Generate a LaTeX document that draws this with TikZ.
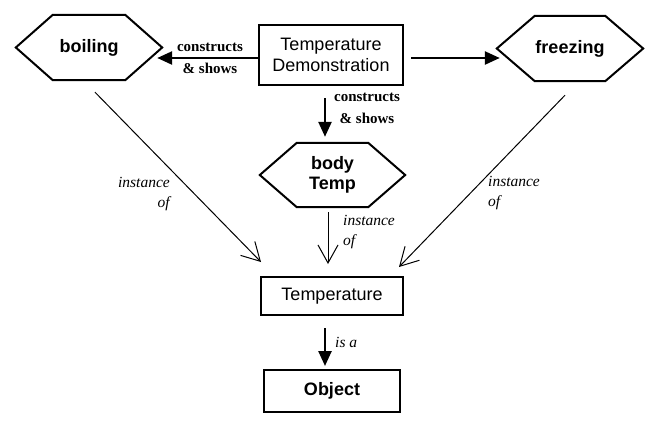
\documentclass[tikz,border=0pt]{standalone}
\usepackage{fontspec}
\setmainfont{Liberation Serif}
\setsansfont{Liberation Sans}
\usetikzlibrary{arrows.meta,calc}
\newcommand\hexdraw[2]{\draw[hexline] (#1.west) -- ([xshift=#2]#1.north west) -- ([xshift=-#2]#1.north east) -- (#1.east) -- ([xshift=-#2]#1.south east) -- ([xshift=#2]#1.south west) -- cycle;}
\begin{document}
\begin{tikzpicture}[x=1pt,y=-1pt,
  box/.style={draw,line width=2pt,font=\sffamily\fontsize{18}{21}\selectfont,align=center,inner sep=0pt},
  hexnode/.style={font=\sffamily\bfseries\fontsize{18}{20}\selectfont,align=center,inner sep=0pt},
  hexline/.style={line width=2pt,line join=miter},
  bigarrow/.style={line width=2.5pt,-{Triangle[length=15pt,width=13pt]}},
  thinarrow/.style={line width=1pt,-{Straight Barb[length=18pt,width=20pt,line width=1pt]}},
  lbl/.style={font=\bfseries\fontsize{15}{22}\selectfont,align=center,inner sep=0pt},
  ilbl/.style={font=\itshape\fontsize{15.5}{20}\selectfont,inner sep=0pt}]
\useasboundingbox[fill=white] (0,0) rectangle (662,421);
% nodes
\node[hexnode,minimum width=146pt,minimum height=65pt] (boil) at (89,47.5) {boiling};
\node[hexnode,minimum width=146pt,minimum height=65pt] (freeze) at (570,48.5) {freezing};
\node[hexnode,minimum width=145pt,minimum height=64pt] (body) at (332.5,175) {body\\Temp};
\hexdraw{boil}{37pt}
\hexdraw{freeze}{38pt}
\hexdraw{body}{37pt}
\node[box,minimum width=144pt,minimum height=60pt] (td) at (331,55) {Temperature\\Demonstration};
\node[box,minimum width=142pt,minimum height=38pt] (temp) at (332,296) {Temperature};
\node[box,font=\sffamily\bfseries\fontsize{18}{21}\selectfont,minimum width=136pt,minimum height=42pt] (obj) at (332,391) {Object};
% connectors
\draw[bigarrow] ($(td.west)+(0,3)$) -- ($(td.west -| boil.east)+(-5,3)$);
\draw[bigarrow] ($(td.east)+(7,3)$) -- ($(td.east -| freeze.west)+(3,3)$);
\draw[bigarrow] ($(td.south)+(-6,12)$) -- ($(body.north)+(-7.5,-6)$);
\draw[thinarrow] ($(body.south)+(-4.5,5)$) -- ($(temp.north)+(-4,-12)$);
\draw[thinarrow] ($(boil.south)+(6,12)$) -- ($(temp.north west)+(1,-14)$);
\draw[thinarrow] ($(freeze.south)+(-5,14)$) -- ($(temp.north east)+(-5,-9)$);
\draw[bigarrow] ($(temp.south)+(-7,12)$) -- ($(obj.north)+(-7,-3)$);
% labels
\node[lbl] (l1) at (210,58) {constructs\\\& shows};
\node[lbl] (l2) at (367,108) {constructs\\\& shows};
\node[ilbl,align=right,anchor=east] (l3) at (170,194) {instance\\of};
\node[ilbl,align=left,anchor=west] (l4) at (488,193) {instance\\of};
\node[ilbl,align=left,anchor=west] (l5) at (343,232) {instance\\of};
\node[ilbl,anchor=west] (l6) at (335,342) {is a};
\end{tikzpicture}
\end{document}
